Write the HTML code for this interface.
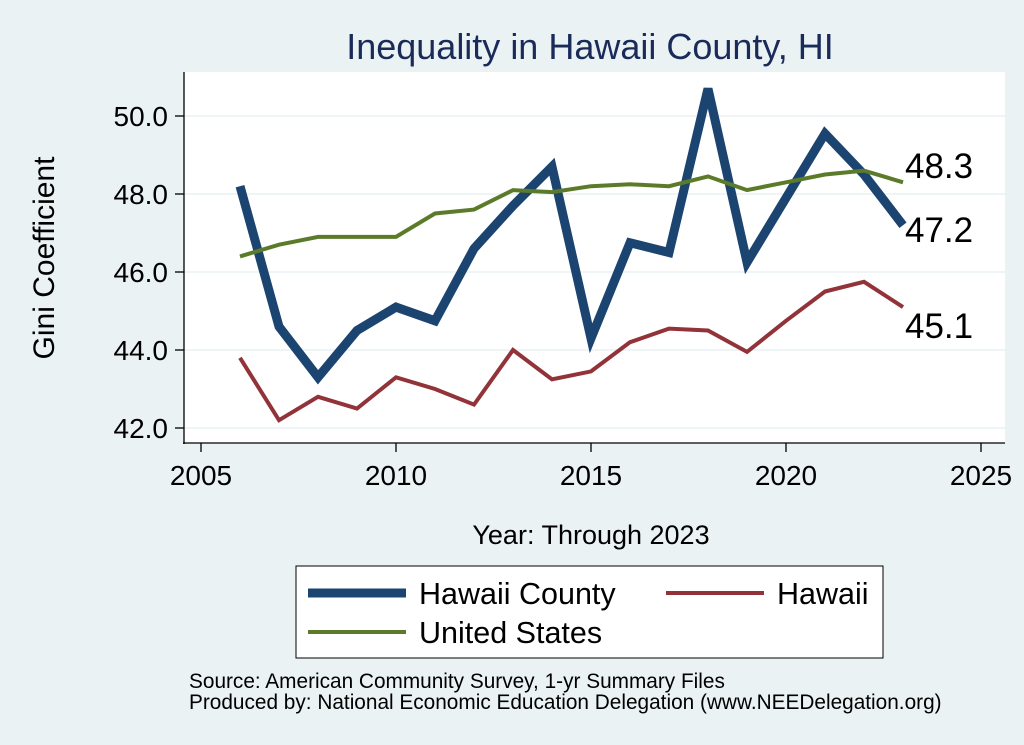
<!DOCTYPE html>
<html><head><meta charset="utf-8"><style>
body{margin:0;background:#EAF2F3;}
svg{display:block;font-family:"Liberation Sans",Arial,sans-serif;}
</style></head><body>
<svg id="s" width="1024" height="745" xmlns="http://www.w3.org/2000/svg">
<rect width="1024" height="745" fill="#EAF2F3"/>
<rect x="184" y="72" width="821" height="371" fill="#fff"/>
<g stroke="#EAF2F3" stroke-width="1.5">
<line x1="184" x2="1005" y1="116" y2="116"/>
<line x1="184" x2="1005" y1="194" y2="194"/>
<line x1="184" x2="1005" y1="272" y2="272"/>
<line x1="184" x2="1005" y1="350" y2="350"/>
<line x1="184" x2="1005" y1="428" y2="428"/>
</g>
<g stroke="#000" stroke-width="1.3">
<line x1="184" y1="72" x2="184" y2="444"/>
<line x1="183" y1="443" x2="1005" y2="443"/>
<line x1="175" x2="184" y1="116" y2="116"/>
<line x1="175" x2="184" y1="194" y2="194"/>
<line x1="175" x2="184" y1="272" y2="272"/>
<line x1="175" x2="184" y1="350" y2="350"/>
<line x1="175" x2="184" y1="428" y2="428"/>
<line x1="201" x2="201" y1="443" y2="452"/>
<line x1="396" x2="396" y1="443" y2="452"/>
<line x1="591" x2="591" y1="443" y2="452"/>
<line x1="786" x2="786" y1="443" y2="452"/>
<line x1="981" x2="981" y1="443" y2="452"/>
</g>
<g font-size="28" text-anchor="end" fill="#000">
<text x="168" y="126">50.0</text><text x="168" y="204">48.0</text>
<text x="168" y="282">46.0</text><text x="168" y="360">44.0</text>
<text x="168" y="438">42.0</text>
</g>
<g font-size="28" text-anchor="middle" fill="#000">
<text x="201" y="485">2005</text><text x="396" y="485">2010</text>
<text x="591" y="485">2015</text><text x="786" y="485">2020</text>
<text x="981" y="485">2025</text>
<text x="591" y="544" font-size="27">Year: Through 2023</text>
</g>
<text x="590" y="59" font-size="36" text-anchor="middle" fill="#1a2b5a">Inequality in Hawaii County, HI</text>
<text transform="translate(54,258) rotate(-90)" font-size="30" text-anchor="middle">Gini Coefficient</text>
<g id="lines"></g>
<g font-size="35" fill="#000">
<text x="905" y="178">48.3</text>
<text x="905" y="242">47.2</text>
<text x="905" y="338">45.1</text>
</g>
<rect x="296" y="566" width="587" height="92" fill="#fff" stroke="#000" stroke-width="1"/>
<line x1="308" x2="406" y1="593" y2="593" stroke="#1B4570" stroke-width="9"/>
<text x="419" y="604" font-size="30.5">Hawaii County</text>
<line x1="666" x2="764" y1="593" y2="593" stroke="#923339" stroke-width="4"/>
<text x="777" y="604" font-size="30.5">Hawaii</text>
<line x1="308" x2="406" y1="632" y2="632" stroke="#5C7B2A" stroke-width="4"/>
<text x="419" y="643" font-size="30.5">United States</text>
<text x="189" y="688" font-size="20.8">Source: American Community Survey, 1-yr Summary Files</text>
<text x="189" y="709" font-size="20.8">Produced by: National Economic Education Delegation (www.NEEDelegation.org)</text>
</svg>
<script>
var hc=[48.2,44.6,43.3,44.5,45.1,44.75,46.6,47.7,48.7,44.3,46.75,46.5,50.7,46.25,47.9,49.55,48.5,47.2];
var hi=[43.8,42.2,42.8,42.5,43.3,43.0,42.6,44.0,43.25,43.45,44.2,44.55,44.5,43.95,44.75,45.5,45.75,45.1];
var us=[46.4,46.7,46.9,46.9,46.9,47.5,47.6,48.1,48.05,48.2,48.25,48.2,48.45,48.1,48.3,48.5,48.6,48.3];
function pts(a){return a.map(function(v,i){return (240+i*39)+","+(428-(v-42)*39).toFixed(1)}).join(" ");}
var g=document.getElementById("lines");
g.innerHTML='<polyline fill="none" stroke="#923339" stroke-width="4" stroke-linejoin="miter" points="'+pts(hi)+'"/>'+
'<polyline fill="none" stroke="#1B4570" stroke-width="9" stroke-linejoin="miter" points="'+pts(hc)+'"/>'+
'<polyline fill="none" stroke="#5C7B2A" stroke-width="4" stroke-linejoin="miter" points="'+pts(us)+'"/>';
</script>
</body></html>
